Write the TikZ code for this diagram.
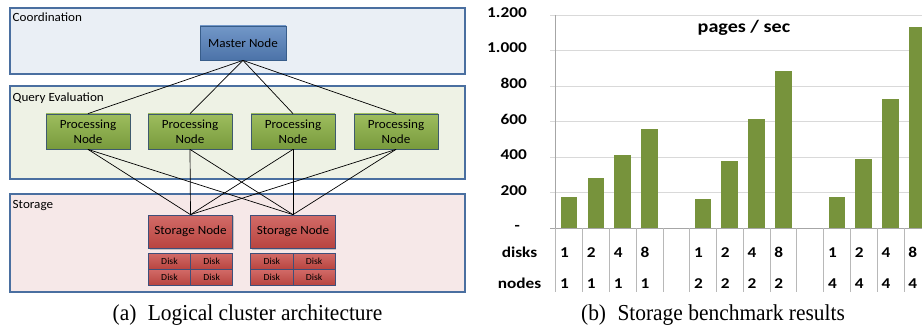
\documentclass[tikz,border=0pt]{standalone}
\usepackage{fontspec}
\setmainfont{Carlito}
\newfontfamily\diagfont[FakeStretch=1.05]{Carlito}
\newfontfamily\chartfont[FakeStretch=1.15]{Carlito}
\newfontfamily\capfont[FakeStretch=0.94]{Liberation Serif}
\usetikzlibrary{shadows}
\definecolor{layerborder}{HTML}{4A6FA0}
\definecolor{coordfill}{HTML}{EAEFF5}
\definecolor{queryfill}{HTML}{EEF2E5}
\definecolor{storfill}{HTML}{F6E8E8}
\definecolor{mastertop}{HTML}{7297C8}
\definecolor{masterbot}{HTML}{4C73A8}
\definecolor{masterdraw}{HTML}{385D8A}
\definecolor{proctop}{HTML}{9DBD5E}
\definecolor{procbot}{HTML}{789A3C}
\definecolor{procdraw}{HTML}{3E5A6E}
\definecolor{stortop}{HTML}{D26B68}
\definecolor{storbot}{HTML}{B8443F}
\definecolor{stordraw}{HTML}{3E4F7A}
\definecolor{barcol}{HTML}{77933C}
\definecolor{gridcol}{HTML}{D9D9D9}
\definecolor{axiscol}{HTML}{A6A6A6}
\tikzset{
  layer/.style={draw=layerborder, line width=1.1pt, drop shadow={shadow xshift=1pt, shadow yshift=-1pt, opacity=0.35}},
  layerlabel/.style={anchor=base west, inner sep=0pt, font=\diagfont\fontsize{12.5}{15}\selectfont},
  masterbox/.style={draw=masterdraw, line width=0.8pt, top color=mastertop, bottom color=masterbot,
    minimum width=86pt, minimum height=34pt, inner sep=0pt, font=\diagfont\fontsize{12.5}{15}\selectfont,
    drop shadow={shadow xshift=1.2pt, shadow yshift=-1.2pt, opacity=0.4}},
  procbox/.style={draw=procdraw, line width=0.8pt, top color=proctop, bottom color=procbot,
    minimum width=84pt, minimum height=35pt, inner sep=0pt, align=center, font=\diagfont\fontsize{12.5}{15.5}\selectfont,
    drop shadow={shadow xshift=1.2pt, shadow yshift=-1.2pt, opacity=0.4}},
  storbox/.style={draw=stordraw, line width=0.8pt, top color=stortop, bottom color=storbot,
    minimum width=84.4pt, minimum height=33.3pt, inner sep=0pt, font=\diagfont\fontsize{12.5}{15}\selectfont,
    drop shadow={shadow xshift=1.2pt, shadow yshift=-1.2pt, opacity=0.4}},
  diskbox/.style={draw=stordraw, line width=0.7pt, top color=stortop, bottom color=storbot,
    minimum width=42.2pt, minimum height=15.9pt, inner sep=0pt, font=\diagfont\fontsize{9.3}{11}\selectfont},
  link/.style={draw=black, line width=0.7pt},
  bar/.style={fill=barcol},
  ylab/.style={anchor=mid east, inner sep=0pt, font=\chartfont\bfseries\fontsize{15}{18}\selectfont},
  catlab/.style={anchor=base west, inner sep=0pt, font=\chartfont\bfseries\fontsize{15}{18}\selectfont},
  rowlab/.style={anchor=base, inner sep=0pt, font=\chartfont\bfseries\fontsize{15}{18}\selectfont},
  caplab/.style={anchor=base, inner sep=0pt, font=\capfont\fontsize{22.8}{26}\selectfont}
}
\begin{document}
\begin{tikzpicture}[x=1pt,y=-1pt]
\useasboundingbox (0,0) rectangle (922,328);
\fill[white] (0,0) rectangle (922,328);

% ---------- (a) layers ----------
\fill[coordfill, layer] (10,8) rectangle (465,74);
\fill[queryfill, layer] (10,86) rectangle (465,179);
\fill[storfill, layer] (10,194) rectangle (465,292);
\node[layerlabel] (lcoord) at (12.5,21.5) {Coordination};
\node[layerlabel] (lquery) at (12.5,102) {Query Evaluation};
\node[layerlabel] (lstor) at (12.5,209) {Storage};

% nodes
\node[masterbox] (m) at (243,43) {Master Node};
\node[procbox] (p1) at (88,131.5) {Processing\\Node};
\node[procbox] (p2) at (190,131.5) {Processing\\Node};
\node[procbox] (p3) at (293,131.5) {Processing\\Node};
\node[procbox] (p4) at (396,131.5) {Processing\\Node};
\node[storbox] (s1) at (190.5,231.7) {Storage Node};
\node[storbox] (s2) at (293,231.7) {Storage Node};

% disks
\node[diskbox] (d1a) at (169.5,261.2) {Disk};
\node[diskbox] (d1b) at (211.7,261.2) {Disk};
\node[diskbox] (d1c) at (169.5,277.1) {Disk};
\node[diskbox] (d1d) at (211.7,277.1) {Disk};
\node[diskbox] (d2a) at (271.9,261.2) {Disk};
\node[diskbox] (d2b) at (314.1,261.2) {Disk};
\node[diskbox] (d2c) at (271.9,277.1) {Disk};
\node[diskbox] (d2d) at (314.1,277.1) {Disk};

% connectors
\foreach \p in {p1,p2,p3,p4} {
  \draw[link] (m.south) -- (\p.north);
  \draw[link] (\p.south) -- (s1.north);
  \draw[link] (\p.south) -- (s2.north);
}

% ---------- (b) chart ----------
\begin{scope}
\clip (470,0) rectangle (922,300);
% gridlines
\foreach \v in {200,400,600,800,1000,1200} {
  \pgfmathsetmacro\yy{228.3-\v*0.17775}
  \draw[gridcol, line width=0.8pt] (550,\yy) -- (922,\yy);
}
% bars
\foreach \i/\v in {0/174,1/281,2/412,3/558,5/165,6/380,7/615,8/886,10/174,11/390,12/729,13/1132} {
  \pgfmathsetmacro\xl{555.7+\i*26.78+5.05}
  \pgfmathsetmacro\yt{228.3-\v*0.17775}
  \fill[bar] (\xl,228.3) rectangle ({\xl+16.7},\yt);
}
% axes and table separators
\draw[axiscol, line width=0.8pt] (550,228.3) -- (922,228.3);
\draw[axiscol, line width=0.8pt] (555.7,15) -- (555.7,228.3);
\foreach \i in {0,...,14} {
  \pgfmathsetmacro\xs{555.7+\i*26.78}
  \draw[axiscol!80, line width=0.6pt] (\xs,228.3) -- (\xs,292);
}
% category labels
\foreach \i/\d/\n in {0/1/1,1/2/1,2/4/1,3/8/1,5/1/2,6/2/2,7/4/2,8/8/2,10/1/4,11/2/4,12/4/4,13/8/4} {
  \pgfmathsetmacro\xs{555.7+\i*26.78+4.3}
  \node[catlab] (cd\i) at (\xs,257.3) {\d};
  \node[catlab] (cn\i) at (\xs,289) {\n};
}
\end{scope}

% y labels
\node[ylab] (y1200) at (527,15) {1.200};
\node[ylab] (y1000) at (527,50.6) {1.000};
\node[ylab] (y800) at (527,86.1) {800};
\node[ylab] (y600) at (527,121.7) {600};
\node[ylab] (y400) at (527,157.2) {400};
\node[ylab] (y200) at (527,192.7) {200};
\node[ylab] (y0) at (520,228.6) {-};
\node[rowlab] (rdisks) at (519.5,257.3) {disks};
\node[rowlab] (rnodes) at (519.5,289) {nodes};
\node[anchor=base, inner sep=0pt, font=\chartfont\bfseries\fontsize{17.5}{20}\selectfont] (title) at (744,32.5) {pages / sec};

% captions
\node[caplab] (capa) at (247.5,321) {(a)\hspace{0.5em}Logical cluster architecture};
\node[caplab] (capb) at (713,321) {(b)\hspace{0.5em}Storage benchmark results};
\end{tikzpicture}
\end{document}
